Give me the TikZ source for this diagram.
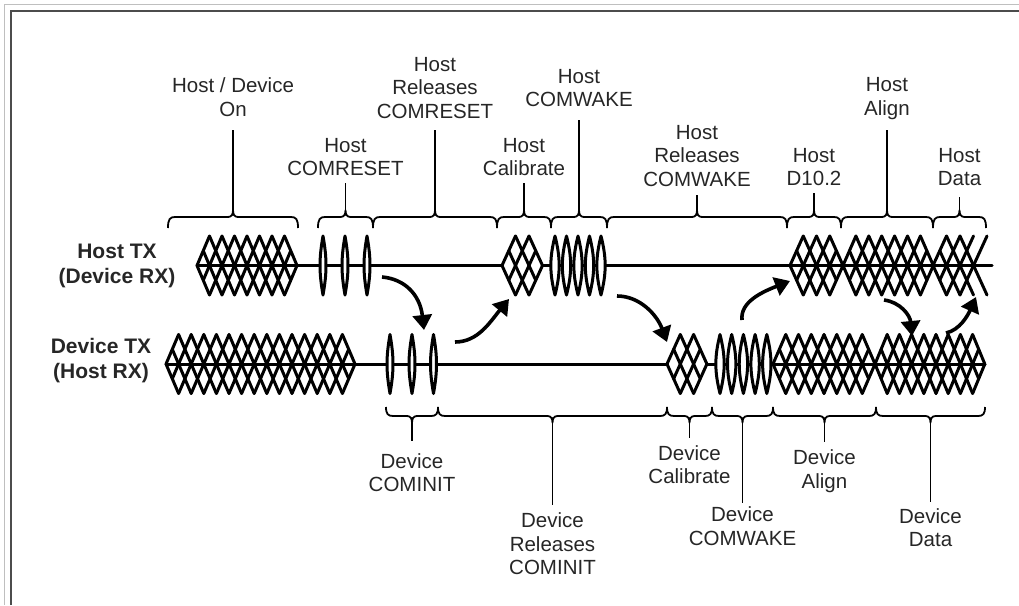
\documentclass[tikz,border=0pt]{standalone}
\usepackage{fontspec}
\setmainfont{Liberation Sans}
\usetikzlibrary{arrows.meta}

\newcommand{\halfht}{29.5}
\tikzset{
  wave/.style={line width=3pt,line cap=round,line join=round},
  brc/.style={line width=1.8pt},
  lead/.style={line width=1.8pt},
  lbl/.style={font=\fontsize{20.5}{23.5}\selectfont,align=center,inner sep=0pt,text=black!85},
  side/.style={font=\fontsize{21}{25}\selectfont\bfseries,align=center,inner sep=0pt,text=black!85},
  handoff/.style={line width=3.6pt,-{Triangle[length=15pt,width=19pt]}}
}

% data lattice: left tip, cells, pitch, centre line, closed right end (1) or open (0)
\newcommand{\eyeblk}[5]{%
  \pgfmathsetmacro\xb{#1+#2*#3}
  \pgfmathtruncatemacro\kmax{#2-1+#5}
  \foreach \k in {0,...,\kmax}{
    \pgfmathsetmacro\xc{#1+\k*#3}
    \pgfmathsetmacro\xst{max(\xc-#3,(#1+\xc)/2)}
    \pgfmathsetmacro\xen{ifthenelse(#5==1,min(\xc+#3,(\xb+\xc)/2),min(\xc+#3,\xb))}
    \pgfmathsetmacro\ya{(\xst-\xc)*\halfht/#3}
    \pgfmathsetmacro\yb{(\xen-\xc)*\halfht/#3}
    \draw[wave] (\xst,{#4-(\ya)}) -- (\xen,{#4-(\yb)});
    \draw[wave] (\xst,{#4+(\ya)}) -- (\xen,{#4+(\yb)});
  }
}
% one OOB burst: x, centre line, bend
\newcommand{\burst}[3]{%
  \draw[wave,fill=white] (#1,#2-\halfht) to[bend left=#3] (#1,#2+\halfht)
    to[bend left=#3] (#1,#2-\halfht);
}
% brace over host tx: name, from, to, lead top, label y, text
\newcommand{\hostlbl}[6]{%
  \pgfmathsetmacro\xm{(#2+#3)/2}
  \draw[brc] (#2,228) .. controls (#2,219) and ({#2+2},217) .. ({#2+7},217)
    -- ({\xm-5},217) .. controls ({\xm-1},217) and (\xm,214) .. (\xm,210)
    .. controls (\xm,214) and ({\xm+1},217) .. ({\xm+5},217)
    -- ({#3-7},217) .. controls ({#3-2},217) and (#3,219) .. (#3,228);
  \draw[lead] (\xm,210) -- (\xm,#4);
  \node[lbl] (#1) at (\xm,#5) {#6};
}
% brace under device tx: name, from, to, lead bottom, label y, text
\newcommand{\devlbl}[6]{%
  \pgfmathsetmacro\xm{(#2+#3)/2}
  \draw[brc] (#2,407) .. controls (#2,414) and ({#2+2},416) .. ({#2+7},416)
    -- ({\xm-5},416) .. controls ({\xm-1},416) and (\xm,419) .. (\xm,423)
    .. controls (\xm,419) and ({\xm+1},416) .. ({\xm+5},416)
    -- ({#3-7},416) .. controls ({#3-2},416) and (#3,414) .. (#3,407);
  \draw[lead] (\xm,423) -- (\xm,#4);
  \node[lbl] (#1) at (\xm,#5) {#6};
}

\begin{document}
\begin{tikzpicture}[x=1pt,y=-1pt]
\useasboundingbox (0,0) rectangle (1019,605);
% frame
\draw[black!25,line width=1pt] (4.5,605) -- (4.5,4.5) -- (1019,4.5);
\draw[black!70,line width=2pt] (10.5,605) -- (10.5,10.5) -- (1019,10.5);

\node[side] (htx) at (117,265.5) {Host TX\\(Device RX)};
\node[side] (dtx) at (101,361) {Device TX\\(Host RX)};

% host tx
\draw[wave] (197,265.5) -- (502,265.5) (542.5,265.5) -- (992,265.5);
\eyeblk{197}{8}{12.5}{265.5}{1}
\foreach \x in {323,345,367}{\burst{\x}{265.5}{10}}
\eyeblk{502}{3}{13.5}{265.5}{1}
\foreach \x in {555,566.5,578,589.5,601}{\burst{\x}{265.5}{14}}
\eyeblk{790}{4}{13.25}{265.5}{1}
\eyeblk{843}{7}{12.9}{265.5}{1}
\eyeblk{933}{4}{13.5}{265.5}{0}

% device tx
\draw[wave] (166,364) -- (667,364) (707,364) -- (985,364);
\eyeblk{166}{15}{12.6}{364}{1}
\foreach \x in {390,412,433.5}{\burst{\x}{364}{10}}
\eyeblk{667}{3}{13.3}{364}{1}
\foreach \x in {720,731.7,743.4,755.1,766.8}{\burst{\x}{364}{14}}
\eyeblk{773}{8}{12.75}{364}{1}
\eyeblk{875}{9}{12.2}{364}{1}

% handshake arrows
\coordinate (ar1s) at (382,277); \coordinate (ar1e) at (424,330);
\coordinate (ar2s) at (455,342); \coordinate (ar2e) at (509,299);
\coordinate (ar3s) at (617,296); \coordinate (ar3e) at (667,342);
\coordinate (ar4s) at (742,320); \coordinate (ar4e) at (790,281);
\coordinate (ar5s) at (884,300); \coordinate (ar5e) at (912,336);
\coordinate (ar6s) at (946,333); \coordinate (ar6e) at (976,297);
\draw[handoff] (ar1s) .. controls (405,279) and (420,295) .. (ar1e);
\draw[handoff] (ar2s) .. controls (478,342) and (490,322) .. (ar2e);
\draw[handoff] (ar3s) .. controls (640,296) and (657,315) .. (ar3e);
\draw[handoff] (ar4s) .. controls (740,302) and (762,292) .. (ar4e);
\draw[handoff] (ar5s) .. controls (900,302) and (910,315) .. (ar5e);
\draw[handoff] (ar6s) .. controls (960,330) and (968,315) .. (ar6e);

% host states
\hostlbl{hon}{168}{298}{130}{97}{Host / Device\\On}
\hostlbl{hcr}{318}{373}{183}{157}{Host\\COMRESET}
\hostlbl{hrcr}{373}{497}{130}{88}{Host\\Releases\\COMRESET}
\hostlbl{hcal}{497}{551}{183}{157}{Host\\Calibrate}
\hostlbl{hcw}{551}{607}{120}{88}{Host\\COMWAKE}
\hostlbl{hrcw}{607}{787}{195}{156}{Host\\Releases\\COMWAKE}
\hostlbl{hdten}{787}{841}{193}{167}{Host\\D10.2}
\hostlbl{hal}{841}{933}{130}{98.5}{Host\\Align}
\hostlbl{hdat}{933}{986}{197}{167}{Host\\Data}

% device states
\devlbl{dci}{386}{438}{441}{472.5}{Device\\COMINIT}
\devlbl{drci}{438}{667}{505}{544}{Device\\Releases\\COMINIT}
\devlbl{dcal}{667}{712}{438}{464.5}{Device\\Calibrate}
\devlbl{dcw}{712}{773}{503}{526}{Device\\COMWAKE}
\devlbl{dal}{773}{876}{442}{471}{Device\\Align}
\devlbl{ddat}{876}{985}{502}{527.5}{Device\\Data}
\end{tikzpicture}
\end{document}
